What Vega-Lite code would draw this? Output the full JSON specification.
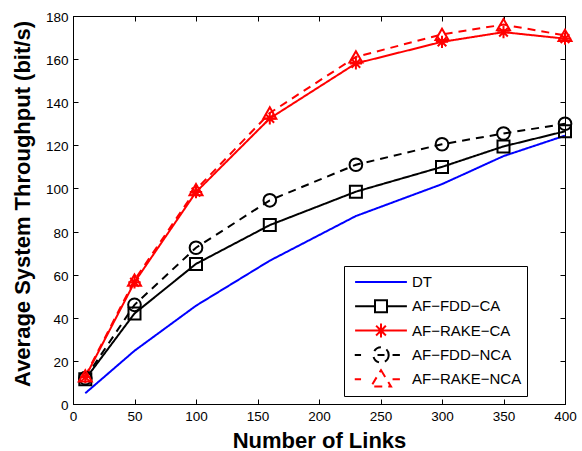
{
  "$schema": "https://vega.github.io/schema/vega-lite/v6.json",
  "width": 492,
  "height": 388,
  "autosize": "none",
  "padding": {"left": 73, "top": 16, "right": 17, "bottom": 47},
  "background": "white",
  "config": {
    "view": {"stroke": "black", "strokeWidth": 1},
    "font": "Liberation Sans"
  },
  "data": {
    "values": [
      {"series": "DT", "links": 10, "throughput": 5},
      {"series": "DT", "links": 50, "throughput": 24.7},
      {"series": "DT", "links": 100, "throughput": 45.6},
      {"series": "DT", "links": 160, "throughput": 66.5},
      {"series": "DT", "links": 230, "throughput": 87.2},
      {"series": "DT", "links": 300, "throughput": 102},
      {"series": "DT", "links": 350, "throughput": 115},
      {"series": "DT", "links": 400, "throughput": 124.5},
      {"series": "AF−FDD−CA", "links": 10, "throughput": 11.5},
      {"series": "AF−FDD−CA", "links": 50, "throughput": 42},
      {"series": "AF−FDD−CA", "links": 100, "throughput": 65},
      {"series": "AF−FDD−CA", "links": 160, "throughput": 83},
      {"series": "AF−FDD−CA", "links": 230, "throughput": 98.5},
      {"series": "AF−FDD−CA", "links": 300, "throughput": 110},
      {"series": "AF−FDD−CA", "links": 350, "throughput": 119.5},
      {"series": "AF−FDD−CA", "links": 400, "throughput": 126.5},
      {"series": "AF−RAKE−CA", "links": 10, "throughput": 12.5},
      {"series": "AF−RAKE−CA", "links": 50, "throughput": 56.5},
      {"series": "AF−RAKE−CA", "links": 100, "throughput": 98.3},
      {"series": "AF−RAKE−CA", "links": 160, "throughput": 132.5},
      {"series": "AF−RAKE−CA", "links": 230, "throughput": 158},
      {"series": "AF−RAKE−CA", "links": 300, "throughput": 168},
      {"series": "AF−RAKE−CA", "links": 350, "throughput": 172.5},
      {"series": "AF−RAKE−CA", "links": 400, "throughput": 169.5},
      {"series": "AF−FDD−NCA", "links": 10, "throughput": 12},
      {"series": "AF−FDD−NCA", "links": 50, "throughput": 46},
      {"series": "AF−FDD−NCA", "links": 100, "throughput": 72.5},
      {"series": "AF−FDD−NCA", "links": 160, "throughput": 94.5},
      {"series": "AF−FDD−NCA", "links": 230, "throughput": 111},
      {"series": "AF−FDD−NCA", "links": 300, "throughput": 120.5},
      {"series": "AF−FDD−NCA", "links": 350, "throughput": 125.5},
      {"series": "AF−FDD−NCA", "links": 400, "throughput": 130},
      {"series": "AF−RAKE−NCA", "links": 10, "throughput": 13},
      {"series": "AF−RAKE−NCA", "links": 50, "throughput": 57.5},
      {"series": "AF−RAKE−NCA", "links": 100, "throughput": 99.5},
      {"series": "AF−RAKE−NCA", "links": 160, "throughput": 135},
      {"series": "AF−RAKE−NCA", "links": 230, "throughput": 161},
      {"series": "AF−RAKE−NCA", "links": 300, "throughput": 171.5},
      {"series": "AF−RAKE−NCA", "links": 350, "throughput": 176},
      {"series": "AF−RAKE−NCA", "links": 400, "throughput": 171}
    ]
  },
  "layer": [
    {
      "mark": {"type": "line", "strokeWidth": 2},
      "encoding": {
        "x": {
          "field": "links", "type": "quantitative",
          "scale": {"domain": [0, 400], "nice": false},
          "axis": {
            "orient": "bottom", "values": [0, 50, 100, 150, 200, 250, 300, 350, 400],
            "grid": false, "tickSize": -5, "tickColor": "black", "domainColor": "black",
            "labelPadding": 10, "labelFontSize": 13.5, "labelColor": "black", "labelFlush": false,
            "title": "Number of Links", "titleFontSize": 22, "titleFontWeight": "bold",
            "titleColor": "black", "titleY": 36, "titleBaseline": "middle"
          }
        },
        "y": {
          "field": "throughput", "type": "quantitative",
          "scale": {"domain": [0, 180], "nice": false},
          "axis": {
            "orient": "left", "values": [0, 20, 40, 60, 80, 100, 120, 140, 160, 180],
            "grid": false, "tickSize": -5, "tickColor": "black", "domainColor": "black",
            "labelPadding": 10, "labelOffset": 1.5, "labelFontSize": 13.5, "labelColor": "black", "labelFlush": false,
            "title": "Average System Throughput (bit/s)", "titleFontSize": 22, "titleFontWeight": "bold",
            "titleColor": "black", "titleX": -51, "titleY": 187.5, "titleBaseline": "middle"
          }
        },
        "color": {
          "field": "series", "type": "nominal",
          "scale": {
            "domain": ["DT", "AF−FDD−CA", "AF−RAKE−CA", "AF−FDD−NCA", "AF−RAKE−NCA"],
            "range": ["#0000FF", "#000000", "#FF0000", "#000000", "#FF0000"]
          },
          "legend": {
            "orient": "none", "legendX": 271, "legendY": 250,
            "title": null, "strokeColor": "black", "fillColor": "white", "padding": 5,
            "labelFontSize": 15, "labelColor": "black", "labelLimit": 0, "labelOffset": 47,
            "symbolSize": 196, "symbolStrokeWidth": 2, "rowPadding": 2.3, "clipHeight": 22,
            "encode": {
              "symbols": {
                "update": {
                  "x": {"value": 32},
                  "shape": {"signal": "datum.value === 'DT' ? 'M22.4,0M-3.7,0H3.7' : datum.value === 'AF−FDD−CA' ? 'M-3.7,0H-0.86M0.86,0H3.7M-0.86,-0.86H0.86V0.86H-0.86Z' : datum.value === 'AF−RAKE−CA' ? 'M-3.7,0H3.7M0,-1V1M-0.7,-0.7L0.7,0.7M-0.7,0.7L0.7,-0.7' : datum.value === 'AF−FDD−NCA' ? 'M-3.75,0H-2.85M1.65,0H2.7M-0.5,0H0.5M1.1,0C1.1,0.61 0.61,1.1 0,1.1C-0.61,1.1 -1.1,0.61 -1.1,0C-1.1,-0.61 -0.61,-1.1 0,-1.1C0.61,-1.1 1.1,-0.61 1.1,0Z' : 'M-3.75,0H-2.85M1.65,0H2.7M0,-1.3L1.43,1.05L-1.43,1.05Z'"},
                  "fill": {"value": "transparent"},
                  "strokeDash": {"value": [1, 0]},
                  "strokeWidth": {"value": 2}
                }
              }
            }
          }
        },
        "strokeDash": {
          "field": "series", "type": "nominal",
          "scale": {
            "domain": ["DT", "AF−FDD−CA", "AF−RAKE−CA", "AF−FDD−NCA", "AF−RAKE−NCA"],
            "range": [[1, 0], [1, 0], [1, 0], [8, 6], [8, 6]]
          },
          "legend": null
        }
      }
    },
    {
      "transform": [{"filter": "datum.series !== 'DT'"}],
      "mark": {"type": "point", "filled": false, "strokeWidth": 2, "opacity": 1},
      "encoding": {
        "x": {
          "field": "links", "type": "quantitative",
          "axis": {
            "orient": "top", "values": [0, 50, 100, 150, 200, 250, 300, 350, 400],
            "grid": false, "tickSize": -5, "tickColor": "black", "domainColor": "black",
            "labels": false, "title": null
          }
        },
        "y": {
          "field": "throughput", "type": "quantitative",
          "axis": {
            "orient": "right", "values": [0, 20, 40, 60, 80, 100, 120, 140, 160, 180],
            "grid": false, "tickSize": -5, "tickColor": "black", "domainColor": "black",
            "labels": false, "title": null
          }
        },
        "color": {"field": "series", "type": "nominal"},
        "shape": {
          "field": "series", "type": "nominal",
          "scale": {
            "domain": ["AF−FDD−CA", "AF−RAKE−CA", "AF−FDD−NCA", "AF−RAKE−NCA"],
            "range": ["square", "M-1,0H1M0,-1V1M-0.7,-0.7L0.7,0.7M-0.7,0.7L0.7,-0.7", "circle", "triangle-up"]
          },
          "legend": null
        },
        "size": {
          "field": "series", "type": "nominal",
          "scale": {
            "domain": ["AF−FDD−CA", "AF−RAKE−CA", "AF−FDD−NCA", "AF−RAKE−NCA"],
            "range": [144, 169, 196, 300]
          },
          "legend": null
        }
      }
    }
  ],
  "resolve": {"axis": {"x": "independent", "y": "independent"}}
}
